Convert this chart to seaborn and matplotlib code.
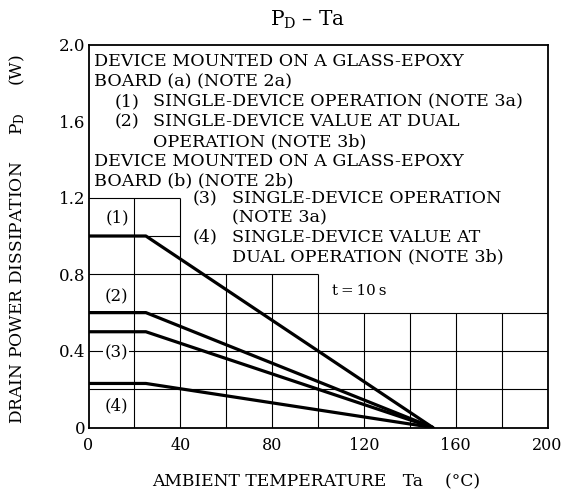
import matplotlib
matplotlib.use("Agg")
import matplotlib.pyplot as plt
import numpy as np
import pandas as pd
import seaborn as sns

# ---- data ----
temps = [0, 25, 150]
pd_curve1 = [1.0, 1.0, 0.0]
pd_curve2 = [0.6, 0.6, 0.0]
pd_curve3 = [0.5, 0.5, 0.0]
pd_curve4 = [0.23, 0.23, 0.0]
curve_names = ["(1)", "(2)", "(3)", "(4)"]
x_ticks = [0, 40, 80, 120, 160, 200]
y_ticks = [0, 0.4, 0.8, 1.2, 1.6, 2.0]
y_tick_labels = ["0", "0.4", "0.8", "1.2", "1.6", "2.0"]

rows = []
for name, vals in zip(curve_names, [pd_curve1, pd_curve2, pd_curve3, pd_curve4]):
    for t, v in zip(temps, vals):
        rows.append({"curve": name, "Ta": t, "PD": v})
df = pd.DataFrame(rows)

sns.set_theme(style="white")
plt.rcParams["font.family"] = ["DejaVu Serif"]
plt.rcParams["mathtext.fontset"] = "dejavuserif"

fig = plt.figure(figsize=(5.64, 4.93), dpi=100)
ax = fig.add_axes([88.5 / 564, 65.5 / 493, 459 / 564, 383 / 493])

# partial grid (blank where the notes are written)
def grid_top(x):
    if x <= 40:
        return 1.2
    if x <= 100:
        return 0.8
    return 0.6

for x in range(20, 200, 20):
    ax.vlines(x, 0, grid_top(x), color="black", lw=0.8, zorder=1)
for y in [0.2, 0.4, 0.6, 0.8, 1.0, 1.2]:
    xmax = 200 if y <= 0.6 else (100 if y <= 0.8 else 40)
    ax.hlines(y, 0, xmax, color="black", lw=0.8, zorder=1)

sns.lineplot(data=df, x="Ta", y="PD", units="curve", estimator=None,
             color="black", lw=2.3, ax=ax, legend=False, zorder=3)

ax.set_xlim(0, 200)
ax.set_ylim(0, 2.0)
ax.set_xticks(x_ticks)
ax.set_xticklabels([str(v) for v in x_ticks])
ax.set_yticks(y_ticks)
ax.set_yticklabels(y_tick_labels)
ax.tick_params(axis="both", length=0, colors="black")
ax.tick_params(axis="x", pad=7, labelsize=11.5)
ax.tick_params(axis="y", pad=2, labelsize=12)
for s in ax.spines.values():
    s.set_color("black")
    s.set_linewidth(1.3)
    s.set_visible(True)

ax.set_xlabel("AMBIENT TEMPERATURE   Ta    (°C)", fontsize=12.3, color="black",
              va="center")
ax.xaxis.set_label_coords(0.497, -0.1415)
ax.set_ylabel(r"DRAIN POWER DISSIPATION     $\mathrm{P_D}$     (W)", fontsize=12.3,
              color="black", va="center")
ax.yaxis.set_label_coords(-0.156, 0.492)
fig.text(308 / 564, 1 - 20 / 493, r"$\mathrm{P_D}$ – Ta", fontsize=14.5,
         ha="center", va="center", color="black")

fs = 12.6
notes = [
    (2.4, 1.91, "DEVICE MOUNTED ON A GLASS-EPOXY"),
    (2.4, 1.805, "BOARD (a) (NOTE 2a)"),
    (11.5, 1.70, "(1)"),
    (28, 1.70, "SINGLE-DEVICE OPERATION (NOTE 3a)"),
    (11.5, 1.597, "(2)"),
    (28, 1.597, "SINGLE-DEVICE VALUE AT DUAL"),
    (28, 1.494, "OPERATION (NOTE 3b)"),
    (2.4, 1.39, "DEVICE MOUNTED ON A GLASS-EPOXY"),
    (2.4, 1.287, "BOARD (b) (NOTE 2b)"),
    (45.5, 1.196, "(3)"),
    (62.5, 1.196, "SINGLE-DEVICE OPERATION"),
    (62.5, 1.096, "(NOTE 3a)"),
    (45.5, 0.993, "(4)"),
    (62.5, 0.993, "SINGLE-DEVICE VALUE AT"),
    (62.5, 0.890, "DUAL OPERATION (NOTE 3b)"),
]
for x, y, s in notes:
    ax.text(x, y, s, fontsize=fs, ha="left", va="center", color="black", zorder=4)
ax.text(106, 0.712, "t\u2009=\u200910\u2009s", fontsize=10.8, ha="left", va="center",
        color="black", zorder=4)

label_pos = [(12.5, 1.095), (12, 0.68), (12, 0.39), (12, 0.115)]
for (x, y), name in zip(label_pos, curve_names):
    ax.text(x, y, name, fontsize=12, ha="center", va="center", color="black", zorder=4,
            bbox=dict(facecolor="white", edgecolor="none", pad=1.0))

fig.savefig("out.png", dpi=100)
